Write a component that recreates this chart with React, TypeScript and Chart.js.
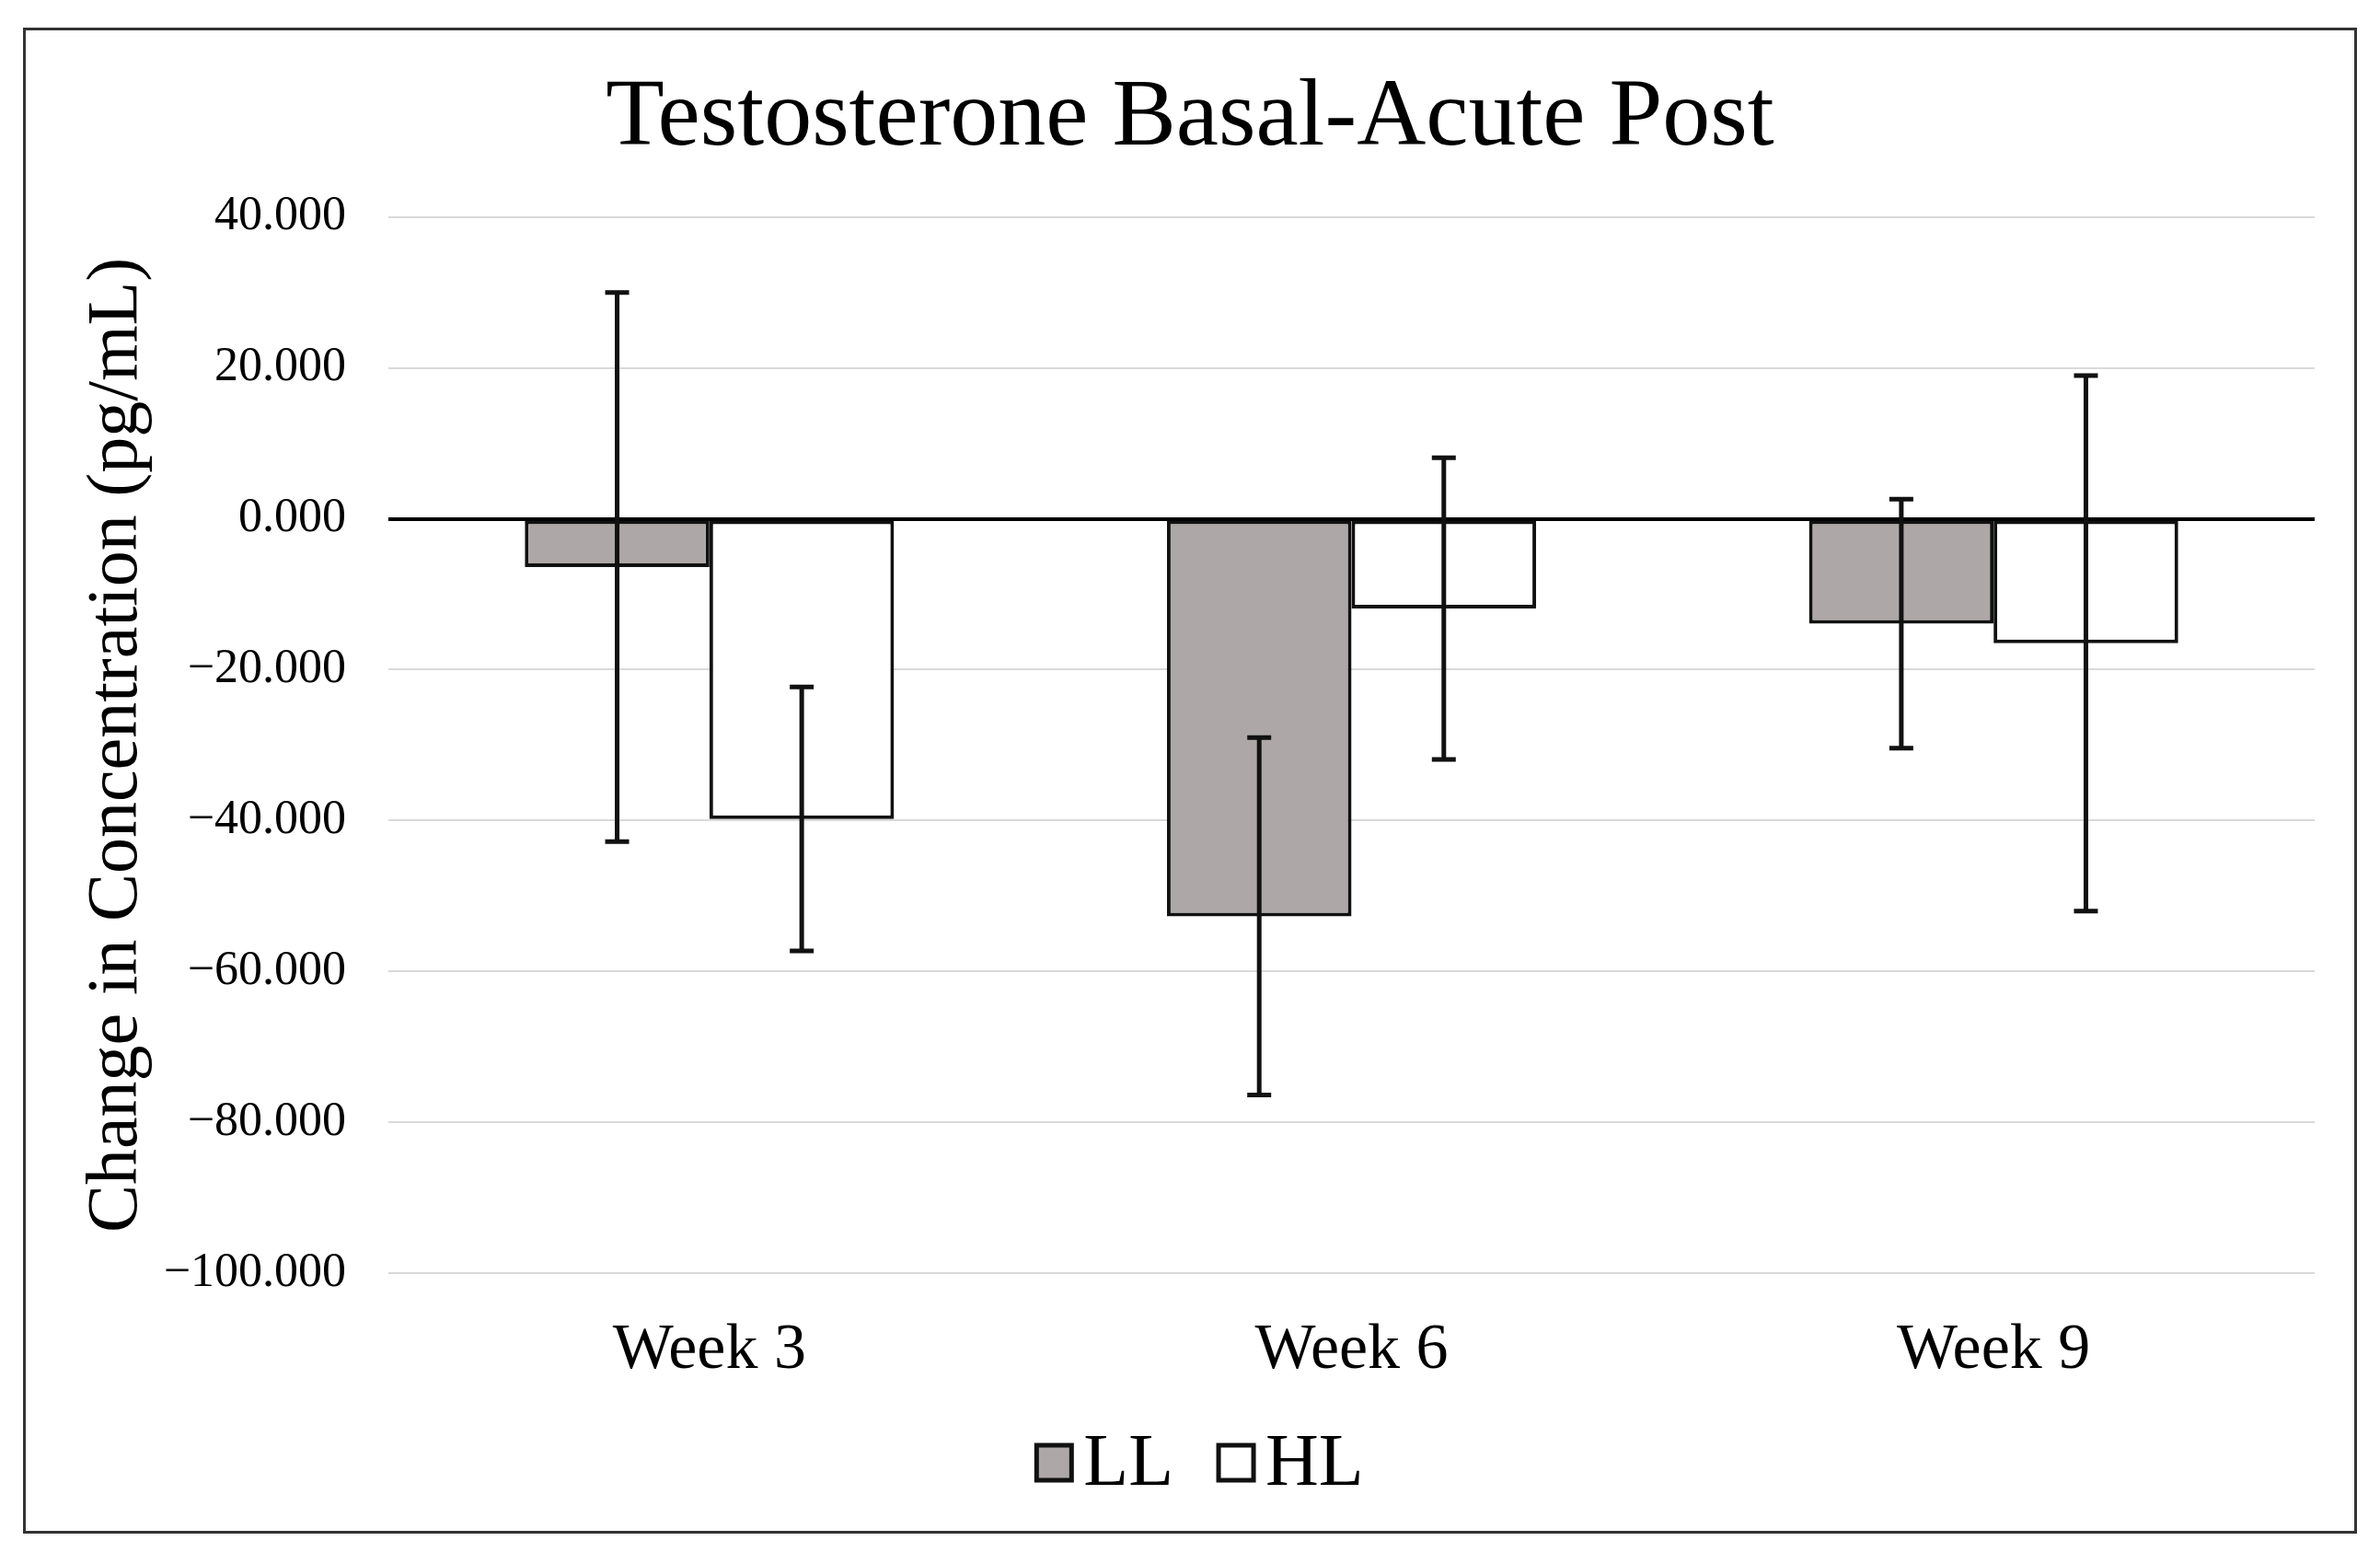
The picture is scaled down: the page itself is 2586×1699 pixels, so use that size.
import React, { useEffect, useRef } from "react";
import { Chart, registerables } from "chart.js";

Chart.register(...registerables);

const categories = ["Week 3", "Week 6", "Week 9"];
const seriesNames = ["LL", "HL"];
const llMeans = [-6.4, -52.7, -13.9];
const llErrors = [36.4, 23.7, 16.5];
const hlMeans = [-39.8, -11.9, -16.5];
const hlErrors = [17.5, 20.0, 35.5];
const yTickValues = [40, 20, 0, -20, -40, -60, -80, -100];
const chartTitle = "Testosterone Basal-Acute Post";
const yAxisTitle = "Change in Concentration (pg/mL)";

const FONT = '"Liberation Serif", "Times New Roman", serif';
const CANVAS_W = 2530;
const CANVAS_H = 1630;

const errorBarPlugin = {
  id: "errorBars",
  afterDatasetsDraw(chart: any) {
    const ctx = chart.ctx;
    const yScale = chart.scales.y;
    chart.data.datasets.forEach((ds: any, i: number) => {
      const meta = chart.getDatasetMeta(i);
      const errs: number[] = ds.errors || [];
      meta.data.forEach((el: any, j: number) => {
        const v = ds.data[j];
        const e = errs[j];
        if (v == null || e == null) return;
        const x = el.x;
        const yTop = yScale.getPixelForValue(v + e);
        const yBot = yScale.getPixelForValue(v - e);
        const cap = 13;
        ctx.save();
        ctx.strokeStyle = "#111";
        ctx.lineWidth = 5;
        ctx.beginPath();
        ctx.moveTo(x, yTop);
        ctx.lineTo(x, yBot);
        ctx.moveTo(x - cap, yTop);
        ctx.lineTo(x + cap, yTop);
        ctx.moveTo(x - cap, yBot);
        ctx.lineTo(x + cap, yBot);
        ctx.stroke();
        ctx.restore();
      });
    });
  },
};

const customLegendPlugin = {
  id: "customLegend",
  afterDraw(chart: any) {
    const ctx = chart.ctx;
    const fontSize = 80;
    const box = 38;
    const gapBoxText = 13;
    const gapItems = 49;
    ctx.save();
    ctx.font = `${fontSize}px ${FONT}`;
    ctx.textBaseline = "middle";
    ctx.textAlign = "left";
    const items = chart.data.datasets.map((ds: any) => ({
      text: ds.label,
      fill: ds.backgroundColor,
      stroke: ds.borderColor,
      w: ctx.measureText(ds.label).width,
    }));
    let total = 0;
    items.forEach((it: any, i: number) => {
      total += box + gapBoxText + it.w + (i < items.length - 1 ? gapItems : 0);
    });
    let x = chart.width / 2 + 11 - total / 2;
    const yc = chart.chartArea.bottom + 206;
    items.forEach((it: any) => {
      ctx.fillStyle = it.fill;
      ctx.fillRect(x, yc - box / 2, box, box);
      ctx.lineWidth = 5;
      ctx.strokeStyle = it.stroke;
      ctx.strokeRect(x, yc - box / 2, box, box);
      ctx.fillStyle = "#000";
      ctx.fillText(it.text, x + box + gapBoxText, yc + 3);
      x += box + gapBoxText + it.w + gapItems;
    });
    ctx.restore();
  },
};

function fmt(v: number): string {
  const s = Math.abs(v).toFixed(3);
  return v < 0 ? "\u2212" + s : s;
}

export default function App() {
  const canvasRef = useRef<HTMLCanvasElement | null>(null);

  useEffect(() => {
    if (!canvasRef.current) return;
    const chart = new Chart(canvasRef.current, {
      type: "bar",
      data: {
        labels: categories,
        datasets: [
          {
            label: seriesNames[0],
            data: llMeans,
            errors: llErrors,
            backgroundColor: "#ADA8A7",
            borderColor: "#111",
            borderWidth: 4,
            borderSkipped: false,
            categoryPercentage: 0.575,
            barPercentage: 1.0,
          } as any,
          {
            label: seriesNames[1],
            data: hlMeans,
            errors: hlErrors,
            backgroundColor: "#FFFFFF",
            borderColor: "#111",
            borderWidth: 4,
            borderSkipped: false,
            categoryPercentage: 0.575,
            barPercentage: 1.0,
          } as any,
        ],
      },
      options: {
        animation: false,
        responsive: false,
        maintainAspectRatio: false,
        devicePixelRatio: 1,
        color: "#000",
        font: { family: FONT },
        layout: { padding: { left: 0, right: 0, top: 0, bottom: 161 } },
        plugins: {
          title: {
            display: true,
            text: chartTitle,
            color: "#000",
            font: { family: FONT, size: 104, weight: "normal" },
            padding: { top: 34, bottom: 44 },
          },
          legend: { display: false },
          tooltip: { enabled: false },
        },
        scales: {
          x: {
            grid: { display: false, drawTicks: false },
            border: { display: false },
            ticks: {
              color: "#000",
              font: { family: FONT, size: 70 },
              padding: 43,
            },
            afterFit: (scale: any) => {
              scale.height = 119;
            },
          },
          y: {
            min: -100,
            max: 40,
            grid: {
              drawTicks: false,
              color: (c: any) => (c.tick && c.tick.value === 0 ? "#000" : "#D9D9D9"),
              lineWidth: (c: any) => (c.tick && c.tick.value === 0 ? 4 : 2),
            },
            border: { display: false },
            afterBuildTicks: (scale: any) => {
              scale.ticks = yTickValues.map((v) => ({ value: v }));
            },
            ticks: {
              color: "#000",
              font: { family: FONT, size: 52 },
              padding: 46,
              callback: (v: any) => fmt(Number(v)),
            },
            title: {
              display: true,
              text: yAxisTitle,
              color: "#000",
              font: { family: FONT, size: 78 },
              padding: { top: 53, bottom: 0 },
            },
            afterFit: (scale: any) => {
              scale.width = 394;
            },
          },
          yRight: {
            type: "linear",
            position: "right",
            display: true,
            grid: { display: false, drawTicks: false },
            border: { display: false },
            ticks: { display: false },
            afterFit: (scale: any) => {
              scale.width = 43;
            },
          },
        },
      } as any,
      plugins: [errorBarPlugin, customLegendPlugin],
    });
    return () => chart.destroy();
  }, []);

  return (
    <div
      style={{
        position: "absolute",
        left: 25,
        top: 30,
        width: CANVAS_W + 6,
        height: CANVAS_H + 6,
        border: "3px solid #333",
        boxSizing: "border-box",
        background: "#fff",
      }}
    >
      <canvas
        ref={canvasRef}
        width={CANVAS_W}
        height={CANVAS_H}
        style={{ width: CANVAS_W, height: CANVAS_H, display: "block" }}
      />
    </div>
  );
}
